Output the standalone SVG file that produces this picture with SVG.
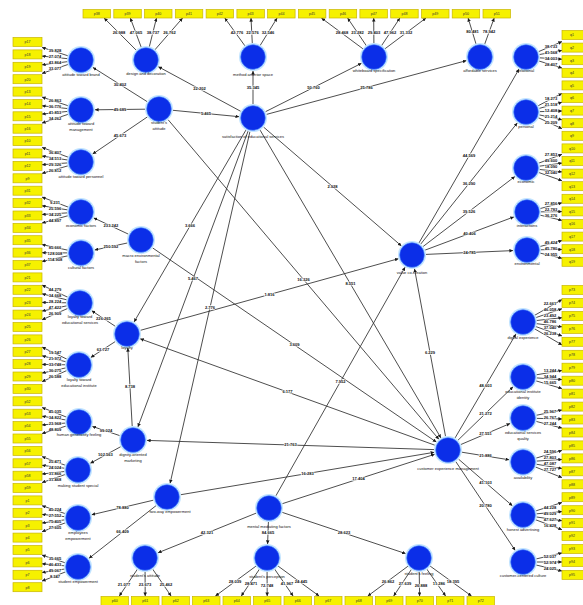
<svg xmlns="http://www.w3.org/2000/svg" width="583" height="605" viewBox="0 0 583 605">
<defs>
<marker id="ah" viewBox="0 0 6 6" refX="6" refY="3" markerWidth="3.6" markerHeight="3.6" markerUnits="userSpaceOnUse" orient="auto"><path d="M0,0 L6,3 L0,6 z" fill="#1a1a1a"/></marker>
</defs>
<style>
.ln line{stroke:#2e2e2e;stroke-width:0.85;marker-end:url(#ah)}
.cf{font-family:"Liberation Sans",Arial,sans-serif;font-size:4.1px;font-weight:bold;fill:#111;text-anchor:middle;paint-order:stroke;stroke:#fff;stroke-width:1.1px}
.halo{fill:#c2e4ff}
.lv{fill:#0b2ee8;stroke:#3f7dff;stroke-width:0.6}
.nl{font-family:"Liberation Sans",Arial,sans-serif;font-size:4px;fill:#111;text-anchor:middle}
.ind rect{fill:#f6f100;stroke:#c8b600;stroke-width:0.7}
.ind text{font-family:"Liberation Sans",Arial,sans-serif;font-size:3.6px;fill:#333;text-anchor:middle}
</style>
<rect width="583" height="605" fill="#fff"/>

<!-- connectors: structural paths -->
<g id="connectors" class="ln">
<line x1="147.1" y1="101.6" x2="92.9" y2="67.4"/>
<line x1="145" y1="109.2" x2="95" y2="109.8"/>
<line x1="147.4" y1="116.9" x2="92.6" y2="154.1"/>
<line x1="172.9" y1="110.3" x2="239.1" y2="116.7"/>
<line x1="240.7" y1="111.3" x2="158.3" y2="66.7"/>
<line x1="253" y1="104" x2="253" y2="71"/>
<line x1="265.5" y1="111.7" x2="361.5" y2="63.3"/>
<line x1="266.5" y1="114.4" x2="466.5" y2="60.6"/>
<line x1="263.6" y1="127.1" x2="401.4" y2="245.9"/>
<line x1="245.9" y1="130.1" x2="134.1" y2="321.9"/>
<line x1="248.1" y1="131.1" x2="137.9" y2="426.9"/>
<line x1="249.9" y1="131.7" x2="170.1" y2="483.3"/>
<line x1="260.1" y1="130.1" x2="440.9" y2="437.9"/>
<line x1="168.1" y1="119.7" x2="438.9" y2="439.3"/>
<line x1="128.3" y1="234.1" x2="93.7" y2="217.9"/>
<line x1="127.3" y1="243" x2="94.7" y2="250"/>
<line x1="152.6" y1="247.9" x2="436.4" y2="442.1"/>
<line x1="115.3" y1="326.3" x2="91.7" y2="310.7"/>
<line x1="115.2" y1="341.6" x2="90.8" y2="357.4"/>
<line x1="140.5" y1="330.3" x2="398.5" y2="258.7"/>
<line x1="434.8" y1="445.2" x2="140.2" y2="338.8"/>
<line x1="132.2" y1="426" x2="127.8" y2="348"/>
<line x1="434" y1="449.6" x2="147" y2="440.4"/>
<line x1="119.7" y1="435.6" x2="92.3" y2="426.4"/>
<line x1="120.7" y1="446.7" x2="90.3" y2="463.3"/>
<line x1="153.4" y1="500.2" x2="91.6" y2="514.8"/>
<line x1="156" y1="505.7" x2="89" y2="558.3"/>
<line x1="180.8" y1="494.7" x2="434.2" y2="452.3"/>
<line x1="282.3" y1="503.7" x2="434.7" y2="454.3"/>
<line x1="275.9" y1="495.8" x2="405.1" y2="267.2"/>
<line x1="445.5" y1="436.2" x2="414.5" y2="268.8"/>
<line x1="256" y1="513.2" x2="158" y2="552.8"/>
<line x1="268.4" y1="522" x2="267.6" y2="544"/>
<line x1="282.3" y1="512.4" x2="405.7" y2="553.6"/>
<line x1="419" y1="242.9" x2="519" y2="69.1"/>
<line x1="420.7" y1="244.1" x2="517.3" y2="122.9"/>
<line x1="423.1" y1="246.5" x2="514.9" y2="176.5"/>
<line x1="425.1" y1="250.1" x2="513.9" y2="216.9"/>
<line x1="426" y1="254.4" x2="513" y2="250.6"/>
<line x1="455.1" y1="437.9" x2="515.9" y2="334.1"/>
<line x1="458" y1="440.2" x2="513" y2="386.8"/>
<line x1="460.9" y1="444.5" x2="510.1" y2="423.5"/>
<line x1="461.8" y1="452.2" x2="509.2" y2="459.8"/>
<line x1="458.6" y1="459.2" x2="512.4" y2="505.8"/>
<line x1="455.8" y1="461.6" x2="515.2" y2="550.4"/>

<!-- outer loadings: top row -->
<line x1="146" y1="60" x2="104.1" y2="18"/><line x1="146" y1="60" x2="130.3" y2="18"/><line x1="146" y1="60" x2="156.5" y2="18"/><line x1="146" y1="60" x2="182.6" y2="18"/>
<line x1="253" y1="57" x2="224.8" y2="18"/><line x1="253" y1="57" x2="251" y2="18"/><line x1="253" y1="57" x2="277.1" y2="18"/>
<line x1="374" y1="57" x2="321.4" y2="18"/><line x1="374" y1="57" x2="347.6" y2="18"/><line x1="374" y1="57" x2="373.7" y2="18"/><line x1="374" y1="57" x2="399.9" y2="18"/><line x1="374" y1="57" x2="426" y2="18"/>
<line x1="480" y1="57" x2="468.1" y2="18"/><line x1="480" y1="57" x2="494.2" y2="18"/>
<!-- outer loadings: left column -->
<line x1="81" y1="60" x2="42" y2="47.4"/><line x1="81" y1="60" x2="42" y2="56.1"/><line x1="81" y1="60" x2="42" y2="64.8"/><line x1="81" y1="60" x2="42" y2="73.4"/>
<line x1="81" y1="110" x2="42" y2="97.1"/><line x1="81" y1="110" x2="42" y2="105.8"/><line x1="81" y1="110" x2="42" y2="114.1"/><line x1="81" y1="110" x2="42" y2="123.1"/>
<line x1="81" y1="162" x2="42" y2="147.4"/><line x1="81" y1="162" x2="42" y2="156.1"/><line x1="81" y1="162" x2="42" y2="164.7"/><line x1="81" y1="162" x2="42" y2="173.4"/>
<line x1="81" y1="212" x2="42" y2="197.1"/><line x1="81" y1="212" x2="42" y2="205.8"/><line x1="81" y1="212" x2="42" y2="214.5"/><line x1="81" y1="212" x2="42" y2="223.1"/>
<line x1="81" y1="253" x2="42" y2="244.6"/><line x1="81" y1="253" x2="42" y2="252.7"/><line x1="81" y1="253" x2="42" y2="261.4"/>
<line x1="80" y1="303" x2="42" y2="285.1"/><line x1="80" y1="303" x2="42" y2="293.8"/><line x1="80" y1="303" x2="42" y2="302.4"/><line x1="80" y1="303" x2="42" y2="311.1"/><line x1="80" y1="303" x2="42" y2="319.8"/>
<line x1="79" y1="365" x2="42" y2="347.1"/><line x1="79" y1="365" x2="42" y2="355.8"/><line x1="79" y1="365" x2="42" y2="364.4"/><line x1="79" y1="365" x2="42" y2="373.1"/><line x1="79" y1="365" x2="42" y2="381.7"/>
<line x1="79" y1="422" x2="42" y2="407.5"/><line x1="79" y1="422" x2="42" y2="416.2"/><line x1="79" y1="422" x2="42" y2="424.9"/><line x1="79" y1="422" x2="42" y2="433.6"/>
<line x1="78" y1="470" x2="42" y2="456.6"/><line x1="78" y1="470" x2="42" y2="465.3"/><line x1="78" y1="470" x2="42" y2="474"/><line x1="78" y1="470" x2="42" y2="482.6"/>
<line x1="78" y1="518" x2="42" y2="505.7"/><line x1="78" y1="518" x2="42" y2="514.4"/><line x1="78" y1="518" x2="42" y2="523"/><line x1="78" y1="518" x2="42" y2="531.7"/>
<line x1="78" y1="567" x2="42" y2="555.1"/><line x1="78" y1="567" x2="42" y2="563.8"/><line x1="78" y1="567" x2="42" y2="572.5"/><line x1="78" y1="567" x2="42" y2="581.1"/>
<!-- outer loadings: right column -->
<line x1="526" y1="57" x2="562" y2="41.6"/><line x1="526" y1="57" x2="562" y2="50.4"/><line x1="526" y1="57" x2="562" y2="59.2"/><line x1="526" y1="57" x2="562" y2="68.1"/>
<line x1="526" y1="112" x2="562" y2="93.4"/><line x1="526" y1="112" x2="562" y2="102.2"/><line x1="526" y1="112" x2="562" y2="111"/><line x1="526" y1="112" x2="562" y2="119.8"/><line x1="526" y1="112" x2="562" y2="128.7"/>
<line x1="526" y1="168" x2="562" y2="154.3"/><line x1="526" y1="168" x2="562" y2="163.1"/><line x1="526" y1="168" x2="562" y2="171.9"/><line x1="526" y1="168" x2="562" y2="180.7"/>
<line x1="527" y1="212" x2="562" y2="202.8"/><line x1="527" y1="212" x2="562" y2="211.6"/><line x1="527" y1="212" x2="562" y2="220.4"/>
<line x1="527" y1="250" x2="562" y2="240.6"/><line x1="527" y1="250" x2="562" y2="249.4"/><line x1="527" y1="250" x2="562" y2="258.3"/>
<line x1="523" y1="322" x2="562" y2="299.6"/><line x1="523" y1="322" x2="562" y2="308.7"/><line x1="523" y1="322" x2="562" y2="317.7"/><line x1="523" y1="322" x2="562" y2="326.8"/><line x1="523" y1="322" x2="562" y2="335.9"/><line x1="523" y1="322" x2="562" y2="344.9"/>
<line x1="523" y1="377" x2="562" y2="370.5"/><line x1="523" y1="377" x2="562" y2="379.6"/><line x1="523" y1="377" x2="562" y2="388.6"/>
<line x1="523" y1="418" x2="562" y2="410"/><line x1="523" y1="418" x2="562" y2="419"/><line x1="523" y1="418" x2="562" y2="428.1"/>
<line x1="523" y1="462" x2="562" y2="450.4"/><line x1="523" y1="462" x2="562" y2="459.4"/><line x1="523" y1="462" x2="562" y2="468.5"/><line x1="523" y1="462" x2="562" y2="477.6"/>
<line x1="523" y1="515" x2="562" y2="502.5"/><line x1="523" y1="515" x2="562" y2="511.6"/><line x1="523" y1="515" x2="562" y2="520.7"/><line x1="523" y1="515" x2="562" y2="529.7"/>
<line x1="523" y1="562" x2="562" y2="552.9"/><line x1="523" y1="562" x2="562" y2="562"/><line x1="523" y1="562" x2="562" y2="571"/>
<!-- outer loadings: bottom row -->
<line x1="145" y1="558" x2="119.3" y2="596"/><line x1="145" y1="558" x2="145.2" y2="596"/><line x1="145" y1="558" x2="171.1" y2="596"/>
<line x1="267" y1="558" x2="215.4" y2="596"/><line x1="267" y1="558" x2="241.3" y2="596"/><line x1="267" y1="558" x2="267.2" y2="596"/><line x1="267" y1="558" x2="293.1" y2="596"/><line x1="267" y1="558" x2="319.1" y2="596"/>
<line x1="419" y1="558" x2="367.8" y2="596"/><line x1="419" y1="558" x2="393.7" y2="596"/><line x1="419" y1="558" x2="419.6" y2="596"/><line x1="419" y1="558" x2="445.6" y2="596"/><line x1="419" y1="558" x2="471.5" y2="596"/>

<!-- path coefficients -->
<g class="cf">
<text x="120" y="85.9">30.402</text><text x="120" y="110.9">49.689</text><text x="120" y="136.9">45.673</text>
<text x="206" y="114.9">5.465</text><text x="199.5" y="90.4">22.202</text><text x="253" y="88.9">35.345</text>
<text x="313.5" y="88.9">50.760</text><text x="366.5" y="88.9">25.786</text><text x="332.5" y="187.9">2.928</text>
<text x="190" y="227.4">3.666</text><text x="193" y="280.4">5.467</text><text x="210" y="308.9">2.776</text>
<text x="350.5" y="285.4">8.551</text><text x="303.5" y="280.9">16.326</text>
<text x="111" y="227.4">233.242</text><text x="111" y="247.9">250.592</text><text x="294.5" y="346.4">3.609</text>
<text x="103.5" y="319.9">226.265</text><text x="103" y="350.9">63.727</text><text x="269.5" y="295.9">1.816</text>
<text x="287.5" y="393.4">6.177</text><text x="130" y="388.4">8.738</text><text x="290.5" y="446.4">21.763</text>
<text x="106" y="432.4">99.024</text><text x="105.5" y="456.4">102.563</text>
<text x="122.5" y="508.9">78.880</text><text x="122.5" y="533.4">66.409</text>
<text x="307.5" y="474.9">16.283</text><text x="358.5" y="480.4">17.404</text><text x="340.5" y="382.9">7.952</text>
<text x="430" y="353.9">6.229</text><text x="207" y="534.4">42.321</text><text x="268" y="534.4">84.665</text><text x="344" y="534.4">28.623</text>
<text x="469" y="157.4">44.569</text><text x="469" y="184.9">36.290</text><text x="469" y="212.9">39.526</text><text x="469.5" y="234.9">40.406</text><text x="469.5" y="253.9">24.785</text>
<text x="485.5" y="387.4">48.603</text><text x="485.5" y="414.9">21.272</text><text x="485.5" y="435.4">27.551</text><text x="485.5" y="457.4">21.886</text><text x="485.5" y="483.9">41.103</text><text x="485.5" y="507.4">20.780</text>
<!-- top loadings -->
<text x="119" y="34.4">26.988</text><text x="136" y="34.4">47.065</text><text x="153" y="34.4">38.737</text><text x="169.5" y="34.4">26.762</text>
<text x="237" y="34.4">42.776</text><text x="252.5" y="34.4">22.576</text><text x="268" y="34.4">32.546</text>
<text x="342" y="34.4">28.468</text><text x="357.5" y="34.4">23.282</text><text x="374" y="34.4">29.403</text><text x="390" y="34.4">47.962</text><text x="406" y="34.4">31.332</text>
<text x="472.5" y="33.4">80.481</text><text x="489" y="33.4">78.942</text>
<!-- left loadings -->
<text x="55" y="52.4">39.828</text><text x="55" y="58.4">27.074</text><text x="55" y="64.4">43.864</text><text x="55" y="70.4">33.077</text>
<text x="55" y="102.4">26.863</text><text x="55" y="108.4">36.776</text><text x="55" y="114.4">41.853</text><text x="55" y="120.4">34.262</text>
<text x="55" y="154.4">36.407</text><text x="55" y="160.4">34.513</text><text x="55" y="166.4">29.326</text><text x="55" y="172.4">26.812</text>
<text x="55" y="204.4">9.231</text><text x="55" y="210.4">25.596</text><text x="55" y="216.4">34.225</text><text x="55" y="222.4">44.897</text>
<text x="55" y="249.4">85.666</text><text x="55" y="255.4">128.008</text><text x="55" y="261.4">114.908</text>
<text x="55" y="291.4">44.279</text><text x="55" y="297.4">34.668</text><text x="55" y="303.4">28.224</text><text x="55" y="309.4">47.422</text><text x="55" y="315.4">26.909</text>
<text x="55" y="354.4">19.547</text><text x="55" y="360.4">21.972</text><text x="55" y="366.4">33.748</text><text x="55" y="372.4">36.275</text><text x="55" y="378.4">26.588</text>
<text x="55" y="413.4">45.035</text><text x="55" y="419.4">34.822</text><text x="55" y="425.4">23.968</text><text x="55" y="431.4">48.809</text>
<text x="55" y="463.4">25.471</text><text x="55" y="469.4">24.024</text><text x="55" y="475.4">31.866</text><text x="55" y="481.4">31.468</text>
<text x="55" y="511.4">45.224</text><text x="55" y="517.4">27.552</text><text x="55" y="523.4">75.405</text><text x="55" y="529.4">27.605</text>
<text x="55" y="560.4">35.665</text><text x="55" y="566.4">46.433</text><text x="55" y="572.4">49.067</text><text x="55" y="578.4">8.347</text>
<!-- right loadings -->
<text x="551" y="48.4">38.733</text><text x="551" y="54.4">41.568</text><text x="551" y="60.4">34.003</text><text x="551" y="66.4">28.407</text>
<text x="551" y="100.4">18.273</text><text x="551" y="106.4">21.518</text><text x="551" y="112.4">12.408</text><text x="551" y="118.4">21.214</text><text x="551" y="124.4">25.209</text>
<text x="551" y="156.4">27.853</text><text x="551" y="162.4">49.600</text><text x="551" y="168.4">18.090</text><text x="551" y="174.4">32.040</text>
<text x="551" y="205.4">27.856</text><text x="551" y="211.4">22.783</text><text x="551" y="217.4">36.276</text>
<text x="551" y="244.4">49.424</text><text x="551" y="250.4">45.780</text><text x="551" y="256.4">24.955</text>
<text x="550" y="305.4">22.661</text><text x="550" y="311.4">46.058</text><text x="550" y="317.4">23.492</text><text x="550" y="323.4">46.786</text><text x="550" y="329.4">37.040</text><text x="550" y="335.4">26.238</text>
<text x="550" y="372.4">13.244</text><text x="550" y="378.4">34.944</text><text x="550" y="384.4">15.665</text>
<text x="550" y="413.4">25.967</text><text x="550" y="419.4">26.767</text><text x="550" y="425.4">27.244</text>
<text x="550" y="453.4">24.596</text><text x="550" y="459.4">27.803</text><text x="550" y="465.4">47.087</text><text x="550" y="471.4">27.727</text>
<text x="550" y="509.4">44.228</text><text x="550" y="515.4">49.029</text><text x="550" y="521.4">47.627</text><text x="550" y="527.4">16.428</text>
<text x="550" y="558.4">52.037</text><text x="550" y="564.4">52.974</text><text x="550" y="570.4">24.025</text>
<!-- bottom loadings -->
<text x="124" y="586.4">21.077</text><text x="145" y="586.4">23.673</text><text x="166" y="586.4">25.462</text>
<text x="235" y="583.4">28.039</text><text x="251" y="585.4">28.471</text><text x="267" y="587.4">72.748</text><text x="287" y="585.4">41.967</text><text x="301" y="583.4">24.445</text>
<text x="388" y="583.4">26.862</text><text x="405" y="585.4">27.639</text><text x="421" y="587.4">26.888</text><text x="439" y="585.4">11.286</text><text x="453" y="583.4">18.395</text>
</g>
</g>

<!-- latent variables -->
<g id="design-decoration"><circle class="halo" cx="146" cy="60" r="14"/><circle class="lv" cx="146" cy="60" r="12.3"/><text class="nl" x="146" y="75.4">design and decoration</text></g>
<g id="anterior-space"><circle class="halo" cx="253" cy="57" r="14"/><circle class="lv" cx="253" cy="57" r="12.3"/><text class="nl" x="253" y="76.4">method anterior space</text></g>
<g id="whiteboard"><circle class="halo" cx="374" cy="57" r="14"/><circle class="lv" cx="374" cy="57" r="12.3"/><text class="nl" x="374" y="72.4">whiteboard specification</text></g>
<g id="affordable-services"><circle class="halo" cx="480" cy="57" r="14"/><circle class="lv" cx="480" cy="57" r="12.3"/><text class="nl" x="480" y="72.4">affordable services</text></g>
<g id="relational"><circle class="halo" cx="526" cy="57" r="14"/><circle class="lv" cx="526" cy="57" r="12.3"/><text class="nl" x="526" y="72.4">relational</text></g>
<g id="personal"><circle class="halo" cx="526" cy="112" r="14"/><circle class="lv" cx="526" cy="112" r="12.3"/><text class="nl" x="526" y="128.4">personal</text></g>
<g id="economic"><circle class="halo" cx="526" cy="168" r="14"/><circle class="lv" cx="526" cy="168" r="12.3"/><text class="nl" x="526" y="183.4">economic</text></g>
<g id="interactions"><circle class="halo" cx="527" cy="212" r="14"/><circle class="lv" cx="527" cy="212" r="12.3"/><text class="nl" x="527" y="227.4">interactions</text></g>
<g id="environmental"><circle class="halo" cx="527" cy="250" r="14"/><circle class="lv" cx="527" cy="250" r="12.3"/><text class="nl" x="527" y="265.4">environmental</text></g>
<g id="digital-experience"><circle class="halo" cx="523" cy="322" r="14"/><circle class="lv" cx="523" cy="322" r="12.3"/><text class="nl" x="523" y="339.4">digital experience</text></g>
<g id="institute-identity"><circle class="halo" cx="523" cy="377" r="14"/><circle class="lv" cx="523" cy="377" r="12.3"/><text class="nl" x="523" y="393.4">educational institute</text><text class="nl" x="523" y="399.4">identity</text></g>
<g id="services-quality"><circle class="halo" cx="523" cy="418" r="14"/><circle class="lv" cx="523" cy="418" r="12.3"/><text class="nl" x="523" y="434.4">educational services</text><text class="nl" x="523" y="440.4">quality</text></g>
<g id="availability"><circle class="halo" cx="523" cy="462" r="14"/><circle class="lv" cx="523" cy="462" r="12.3"/><text class="nl" x="523" y="479.4">availability</text></g>
<g id="honest-advertising"><circle class="halo" cx="523" cy="515" r="14"/><circle class="lv" cx="523" cy="515" r="12.3"/><text class="nl" x="523" y="531.4">honest advertising</text></g>
<g id="customer-culture"><circle class="halo" cx="523" cy="562" r="14"/><circle class="lv" cx="523" cy="562" r="12.3"/><text class="nl" x="523" y="577.4">customer-centered culture</text></g>
<g id="cem"><circle class="halo" cx="448" cy="450" r="14"/><circle class="lv" cx="448" cy="450" r="12.3"/><text class="nl" x="448" y="470.4">customer experience management</text></g>
<g id="value-co-creation"><circle class="halo" cx="412" cy="255" r="14"/><circle class="lv" cx="412" cy="255" r="12.3"/><text class="nl" x="412" y="274.4">value co-creation</text></g>
<g id="satisfaction"><circle class="halo" cx="253" cy="118" r="14"/><circle class="lv" cx="253" cy="118" r="12.3"/><text class="nl" x="253" y="138.4">satisfaction of educational services</text></g>
<g id="student-attitude"><circle class="halo" cx="159" cy="109" r="14"/><circle class="lv" cx="159" cy="109" r="12.3"/><text class="nl" x="159" y="124.4">student's</text><text class="nl" x="159" y="130.4">attitude</text></g>
<g id="attitude-brand"><circle class="halo" cx="81" cy="60" r="14"/><circle class="lv" cx="81" cy="60" r="12.3"/><text class="nl" x="81" y="76.4">attitude toward brand</text></g>
<g id="attitude-management"><circle class="halo" cx="81" cy="110" r="14"/><circle class="lv" cx="81" cy="110" r="12.3"/><text class="nl" x="81" y="125.4">attitude toward</text><text class="nl" x="81" y="131.4">management</text></g>
<g id="attitude-personnel"><circle class="halo" cx="81" cy="162" r="14"/><circle class="lv" cx="81" cy="162" r="12.3"/><text class="nl" x="81" y="178.4">attitude toward personnel</text></g>
<g id="economic-factors"><circle class="halo" cx="81" cy="212" r="14"/><circle class="lv" cx="81" cy="212" r="12.3"/><text class="nl" x="81" y="227.4">economic factors</text></g>
<g id="cultural-factors"><circle class="halo" cx="81" cy="253" r="14"/><circle class="lv" cx="81" cy="253" r="12.3"/><text class="nl" x="81" y="269.4">cultural factors</text></g>
<g id="macro-factors"><circle class="halo" cx="141" cy="240" r="14"/><circle class="lv" cx="141" cy="240" r="12.3"/><text class="nl" x="141" y="257.4">macro environmental</text><text class="nl" x="141" y="263.4">factors</text></g>
<g id="loyalty-services"><circle class="halo" cx="80" cy="303" r="14"/><circle class="lv" cx="80" cy="303" r="12.3"/><text class="nl" x="80" y="318.4">loyalty toward</text><text class="nl" x="80" y="324.4">educational services</text></g>
<g id="loyalty"><circle class="halo" cx="127" cy="334" r="14"/><circle class="lv" cx="127" cy="334" r="12.3"/><text class="nl" x="127" y="349.4">loyalty</text></g>
<g id="loyalty-institute"><circle class="halo" cx="79" cy="365" r="14"/><circle class="lv" cx="79" cy="365" r="12.3"/><text class="nl" x="79" y="381.4">loyalty toward</text><text class="nl" x="79" y="387.4">educational institute</text></g>
<g id="generosity-feeling"><circle class="halo" cx="79" cy="422" r="14"/><circle class="lv" cx="79" cy="422" r="12.3"/><text class="nl" x="79" y="436.4">human generosity feeling</text></g>
<g id="dignity-marketing"><circle class="halo" cx="133" cy="440" r="14"/><circle class="lv" cx="133" cy="440" r="12.3"/><text class="nl" x="133" y="456.4">dignity-oriented</text><text class="nl" x="133" y="462.4">marketing</text></g>
<g id="student-special"><circle class="halo" cx="78" cy="470" r="14"/><circle class="lv" cx="78" cy="470" r="12.3"/><text class="nl" x="78" y="487.4">making student special</text></g>
<g id="employees-empowerment"><circle class="halo" cx="78" cy="518" r="14"/><circle class="lv" cx="78" cy="518" r="12.3"/><text class="nl" x="78" y="534.4">employees</text><text class="nl" x="78" y="540.4">empowerment</text></g>
<g id="two-way-empowerment"><circle class="halo" cx="167" cy="497" r="14"/><circle class="lv" cx="167" cy="497" r="12.3"/><text class="nl" x="170" y="513.4">two-way empowerment</text></g>
<g id="student-empowerment"><circle class="halo" cx="78" cy="567" r="14"/><circle class="lv" cx="78" cy="567" r="12.3"/><text class="nl" x="78" y="583.4">student empowerment</text></g>
<g id="student-attitude-2"><circle class="halo" cx="145" cy="558" r="14"/><circle class="lv" cx="145" cy="558" r="12.3"/><text class="nl" x="145" y="577.4">student's attitude</text></g>
<g id="mental-factors"><circle class="halo" cx="269" cy="508" r="14"/><circle class="lv" cx="269" cy="508" r="12.3"/><text class="nl" x="269" y="528.4">mental mediating factors</text></g>
<g id="student-perception"><circle class="halo" cx="267" cy="558" r="14"/><circle class="lv" cx="267" cy="558" r="12.3"/><text class="nl" x="267" y="578.4">student's perception</text></g>
<g id="student-feeling"><circle class="halo" cx="419" cy="558" r="14"/><circle class="lv" cx="419" cy="558" r="12.3"/><text class="nl" x="419" y="575.4">student's feeling</text></g>

<!-- indicators: top row -->
<g class="ind">
<g id="p38"><rect x="83" y="9.5" width="27.5" height="8.5"/><text x="96.8" y="15">p38</text></g>
<g id="p39"><rect x="113.8" y="9.5" width="27.5" height="8.5"/><text x="127.5" y="15">p39</text></g>
<g id="p40"><rect x="144.5" y="9.5" width="27.5" height="8.5"/><text x="158.3" y="15">p40</text></g>
<g id="p41"><rect x="175.3" y="9.5" width="27.5" height="8.5"/><text x="189" y="15">p41</text></g>
<g id="p42"><rect x="206.1" y="9.5" width="27.5" height="8.5"/><text x="219.8" y="15">p42</text></g>
<g id="p43"><rect x="236.9" y="9.5" width="27.5" height="8.5"/><text x="250.6" y="15">p43</text></g>
<g id="p44"><rect x="267.6" y="9.5" width="27.5" height="8.5"/><text x="281.4" y="15">p44</text></g>
<g id="p45"><rect x="298.4" y="9.5" width="27.5" height="8.5"/><text x="312.1" y="15">p45</text></g>
<g id="p46"><rect x="329.2" y="9.5" width="27.5" height="8.5"/><text x="342.9" y="15">p46</text></g>
<g id="p47"><rect x="359.9" y="9.5" width="27.5" height="8.5"/><text x="373.7" y="15">p47</text></g>
<g id="p48"><rect x="390.7" y="9.5" width="27.5" height="8.5"/><text x="404.5" y="15">p48</text></g>
<g id="p49"><rect x="421.5" y="9.5" width="27.5" height="8.5"/><text x="435.2" y="15">p49</text></g>
<g id="p50"><rect x="452.2" y="9.5" width="27.5" height="8.5"/><text x="466" y="15">p50</text></g>
<g id="p51"><rect x="483" y="9.5" width="27.5" height="8.5"/><text x="496.7" y="15">p51</text></g>
</g>
<!-- indicators: left column -->
<g class="ind">
<g id="p17"><rect x="13" y="37.5" width="29" height="9"/><text x="27.5" y="43.3">p17</text></g>
<g id="p18"><rect x="13" y="49.9" width="29" height="9"/><text x="27.5" y="55.7">p18</text></g>
<g id="p19"><rect x="13" y="62.3" width="29" height="9"/><text x="27.5" y="68.1">p19</text></g>
<g id="p20"><rect x="13" y="74.7" width="29" height="9"/><text x="27.5" y="80.5">p20</text></g>
<g id="p13"><rect x="13" y="87.1" width="29" height="9"/><text x="27.5" y="92.9">p13</text></g>
<g id="p14"><rect x="13" y="99.5" width="29" height="9"/><text x="27.5" y="105.3">p14</text></g>
<g id="p15"><rect x="13" y="111.8" width="29" height="9"/><text x="27.5" y="117.6">p15</text></g>
<g id="p16"><rect x="13" y="124.2" width="29" height="9"/><text x="27.5" y="130">p16</text></g>
<g id="p10"><rect x="13" y="136.6" width="29" height="9"/><text x="27.5" y="142.4">p10</text></g>
<g id="p11"><rect x="13" y="149" width="29" height="9"/><text x="27.5" y="154.8">p11</text></g>
<g id="p12"><rect x="13" y="161.4" width="29" height="9"/><text x="27.5" y="167.2">p12</text></g>
<g id="p9"><rect x="13" y="173.8" width="29" height="9"/><text x="27.5" y="179.6">p9</text></g>
<g id="p31"><rect x="13" y="186.2" width="29" height="9"/><text x="27.5" y="192">p31</text></g>
<g id="p32"><rect x="13" y="198.6" width="29" height="9"/><text x="27.5" y="204.4">p32</text></g>
<g id="p33"><rect x="13" y="211" width="29" height="9"/><text x="27.5" y="216.8">p33</text></g>
<g id="p34"><rect x="13" y="223.4" width="29" height="9"/><text x="27.5" y="229.2">p34</text></g>
<g id="p35"><rect x="13" y="235.7" width="29" height="9"/><text x="27.5" y="241.5">p35</text></g>
<g id="p36"><rect x="13" y="248.1" width="29" height="9"/><text x="27.5" y="253.9">p36</text></g>
<g id="p37"><rect x="13" y="260.5" width="29" height="9"/><text x="27.5" y="266.3">p37</text></g>
<g id="p21"><rect x="13" y="272.9" width="29" height="9"/><text x="27.5" y="278.7">p21</text></g>
<g id="p22"><rect x="13" y="285.3" width="29" height="9"/><text x="27.5" y="291.1">p22</text></g>
<g id="p23"><rect x="13" y="297.7" width="29" height="9"/><text x="27.5" y="303.5">p23</text></g>
<g id="p24"><rect x="13" y="310.1" width="29" height="9"/><text x="27.5" y="315.9">p24</text></g>
<g id="p25"><rect x="13" y="322.5" width="29" height="9"/><text x="27.5" y="328.3">p25</text></g>
<g id="p26"><rect x="13" y="334.9" width="29" height="9"/><text x="27.5" y="340.7">p26</text></g>
<g id="p27"><rect x="13" y="347.3" width="29" height="9"/><text x="27.5" y="353.1">p27</text></g>
<g id="p28"><rect x="13" y="359.6" width="29" height="9"/><text x="27.5" y="365.4">p28</text></g>
<g id="p29"><rect x="13" y="372" width="29" height="9"/><text x="27.5" y="377.8">p29</text></g>
<g id="p30"><rect x="13" y="384.4" width="29" height="9"/><text x="27.5" y="390.2">p30</text></g>
<g id="p52"><rect x="13" y="396.8" width="29" height="9"/><text x="27.5" y="402.6">p52</text></g>
<g id="p53"><rect x="13" y="409.2" width="29" height="9"/><text x="27.5" y="415">p53</text></g>
<g id="p54"><rect x="13" y="421.6" width="29" height="9"/><text x="27.5" y="427.4">p54</text></g>
<g id="p55"><rect x="13" y="434" width="29" height="9"/><text x="27.5" y="439.8">p55</text></g>
<g id="p56"><rect x="13" y="446.4" width="29" height="9"/><text x="27.5" y="452.2">p56</text></g>
<g id="p57"><rect x="13" y="458.8" width="29" height="9"/><text x="27.5" y="464.6">p57</text></g>
<g id="p58"><rect x="13" y="471.2" width="29" height="9"/><text x="27.5" y="477">p58</text></g>
<g id="p59"><rect x="13" y="483.5" width="29" height="9"/><text x="27.5" y="489.3">p59</text></g>
<g id="p1"><rect x="13" y="495.9" width="29" height="9"/><text x="27.5" y="501.7">p1</text></g>
<g id="p2"><rect x="13" y="508.3" width="29" height="9"/><text x="27.5" y="514.1">p2</text></g>
<g id="p3"><rect x="13" y="520.7" width="29" height="9"/><text x="27.5" y="526.5">p3</text></g>
<g id="p4"><rect x="13" y="533.1" width="29" height="9"/><text x="27.5" y="538.9">p4</text></g>
<g id="p5"><rect x="13" y="545.5" width="29" height="9"/><text x="27.5" y="551.3">p5</text></g>
<g id="p6"><rect x="13" y="557.9" width="29" height="9"/><text x="27.5" y="563.7">p6</text></g>
<g id="p7"><rect x="13" y="570.3" width="29" height="9"/><text x="27.5" y="576.1">p7</text></g>
<g id="p8"><rect x="13" y="582.7" width="29" height="9"/><text x="27.5" y="588.5">p8</text></g>
</g>
<!-- indicators: right column -->
<g class="ind">
<g id="q1"><rect x="562" y="30.5" width="28" height="9"/><text x="572" y="36.3">q1</text></g>
<g id="q2"><rect x="562" y="43.1" width="28" height="9"/><text x="572" y="48.9">q2</text></g>
<g id="q3"><rect x="562" y="55.7" width="28" height="9"/><text x="572" y="61.5">q3</text></g>
<g id="q4"><rect x="562" y="68.3" width="28" height="9"/><text x="572" y="74.1">q4</text></g>
<g id="q5"><rect x="562" y="80.9" width="28" height="9"/><text x="572" y="86.7">q5</text></g>
<g id="q6"><rect x="562" y="93.5" width="28" height="9"/><text x="572" y="99.3">q6</text></g>
<g id="q7"><rect x="562" y="106.1" width="28" height="9"/><text x="572" y="111.9">q7</text></g>
<g id="q8"><rect x="562" y="118.7" width="28" height="9"/><text x="572" y="124.5">q8</text></g>
<g id="q9"><rect x="562" y="131.3" width="28" height="9"/><text x="572" y="137.1">q9</text></g>
<g id="q10"><rect x="562" y="143.9" width="28" height="9"/><text x="572" y="149.7">q10</text></g>
<g id="q11"><rect x="562" y="156.5" width="28" height="9"/><text x="572" y="162.3">q11</text></g>
<g id="q12"><rect x="562" y="169.1" width="28" height="9"/><text x="572" y="174.9">q12</text></g>
<g id="q13"><rect x="562" y="181.7" width="28" height="9"/><text x="572" y="187.5">q13</text></g>
<g id="q14"><rect x="562" y="194.3" width="28" height="9"/><text x="572" y="200.1">q14</text></g>
<g id="q15"><rect x="562" y="206.9" width="28" height="9"/><text x="572" y="212.7">q15</text></g>
<g id="q16"><rect x="562" y="219.5" width="28" height="9"/><text x="572" y="225.3">q16</text></g>
<g id="q17"><rect x="562" y="232.1" width="28" height="9"/><text x="572" y="237.9">q17</text></g>
<g id="q18"><rect x="562" y="244.7" width="28" height="9"/><text x="572" y="250.5">q18</text></g>
<g id="q19"><rect x="562" y="257.3" width="28" height="9"/><text x="572" y="263.1">q19</text></g>
<g id="p73"><rect x="562" y="285.5" width="28" height="9"/><text x="572" y="291.3">p73</text></g>
<g id="p74"><rect x="562" y="298.5" width="28" height="9"/><text x="572" y="304.3">p74</text></g>
<g id="p75"><rect x="562" y="311.4" width="28" height="9"/><text x="572" y="317.2">p75</text></g>
<g id="p76"><rect x="562" y="324.4" width="28" height="9"/><text x="572" y="330.2">p76</text></g>
<g id="p77"><rect x="562" y="337.3" width="28" height="9"/><text x="572" y="343.1">p77</text></g>
<g id="p78"><rect x="562" y="350.3" width="28" height="9"/><text x="572" y="356.1">p78</text></g>
<g id="p79"><rect x="562" y="363.2" width="28" height="9"/><text x="572" y="369">p79</text></g>
<g id="p80"><rect x="562" y="376.2" width="28" height="9"/><text x="572" y="382">p80</text></g>
<g id="p81"><rect x="562" y="389.1" width="28" height="9"/><text x="572" y="394.9">p81</text></g>
<g id="p82"><rect x="562" y="402.1" width="28" height="9"/><text x="572" y="407.9">p82</text></g>
<g id="p83"><rect x="562" y="415" width="28" height="9"/><text x="572" y="420.8">p83</text></g>
<g id="p84"><rect x="562" y="428" width="28" height="9"/><text x="572" y="433.8">p84</text></g>
<g id="p85"><rect x="562" y="440.9" width="28" height="9"/><text x="572" y="446.7">p85</text></g>
<g id="p86"><rect x="562" y="453.9" width="28" height="9"/><text x="572" y="459.7">p86</text></g>
<g id="p87"><rect x="562" y="466.8" width="28" height="9"/><text x="572" y="472.6">p87</text></g>
<g id="p88"><rect x="562" y="479.8" width="28" height="9"/><text x="572" y="485.6">p88</text></g>
<g id="p89"><rect x="562" y="492.7" width="28" height="9"/><text x="572" y="498.5">p89</text></g>
<g id="p90"><rect x="562" y="505.7" width="28" height="9"/><text x="572" y="511.5">p90</text></g>
<g id="p91"><rect x="562" y="518.6" width="28" height="9"/><text x="572" y="524.4">p91</text></g>
<g id="p92"><rect x="562" y="531.6" width="28" height="9"/><text x="572" y="537.4">p92</text></g>
<g id="p93"><rect x="562" y="544.5" width="28" height="9"/><text x="572" y="550.3">p93</text></g>
<g id="p94"><rect x="562" y="557.5" width="28" height="9"/><text x="572" y="563.3">p94</text></g>
<g id="p95"><rect x="562" y="570.4" width="28" height="9"/><text x="572" y="576.2">p95</text></g>
</g>
<!-- indicators: bottom row -->
<g class="ind">
<g id="p60"><rect x="101" y="596.5" width="27.5" height="9"/><text x="114.8" y="602.3">p60</text></g>
<g id="p61"><rect x="131.5" y="596.5" width="27.5" height="9"/><text x="145.3" y="602.3">p61</text></g>
<g id="p62"><rect x="162" y="596.5" width="27.5" height="9"/><text x="175.8" y="602.3">p62</text></g>
<g id="p63"><rect x="192.5" y="596.5" width="27.5" height="9"/><text x="206.3" y="602.3">p63</text></g>
<g id="p64"><rect x="223" y="596.5" width="27.5" height="9"/><text x="236.8" y="602.3">p64</text></g>
<g id="p65"><rect x="253.5" y="596.5" width="27.5" height="9"/><text x="267.3" y="602.3">p65</text></g>
<g id="p66"><rect x="284" y="596.5" width="27.5" height="9"/><text x="297.8" y="602.3">p66</text></g>
<g id="p67"><rect x="314.5" y="596.5" width="27.5" height="9"/><text x="328.3" y="602.3">p67</text></g>
<g id="p68"><rect x="345" y="596.5" width="27.5" height="9"/><text x="358.8" y="602.3">p68</text></g>
<g id="p69"><rect x="375.5" y="596.5" width="27.5" height="9"/><text x="389.3" y="602.3">p69</text></g>
<g id="p70"><rect x="406" y="596.5" width="27.5" height="9"/><text x="419.8" y="602.3">p70</text></g>
<g id="p71"><rect x="436.5" y="596.5" width="27.5" height="9"/><text x="450.3" y="602.3">p71</text></g>
<g id="p72"><rect x="467" y="596.5" width="27.5" height="9"/><text x="480.8" y="602.3">p72</text></g>
</g>
</svg>
